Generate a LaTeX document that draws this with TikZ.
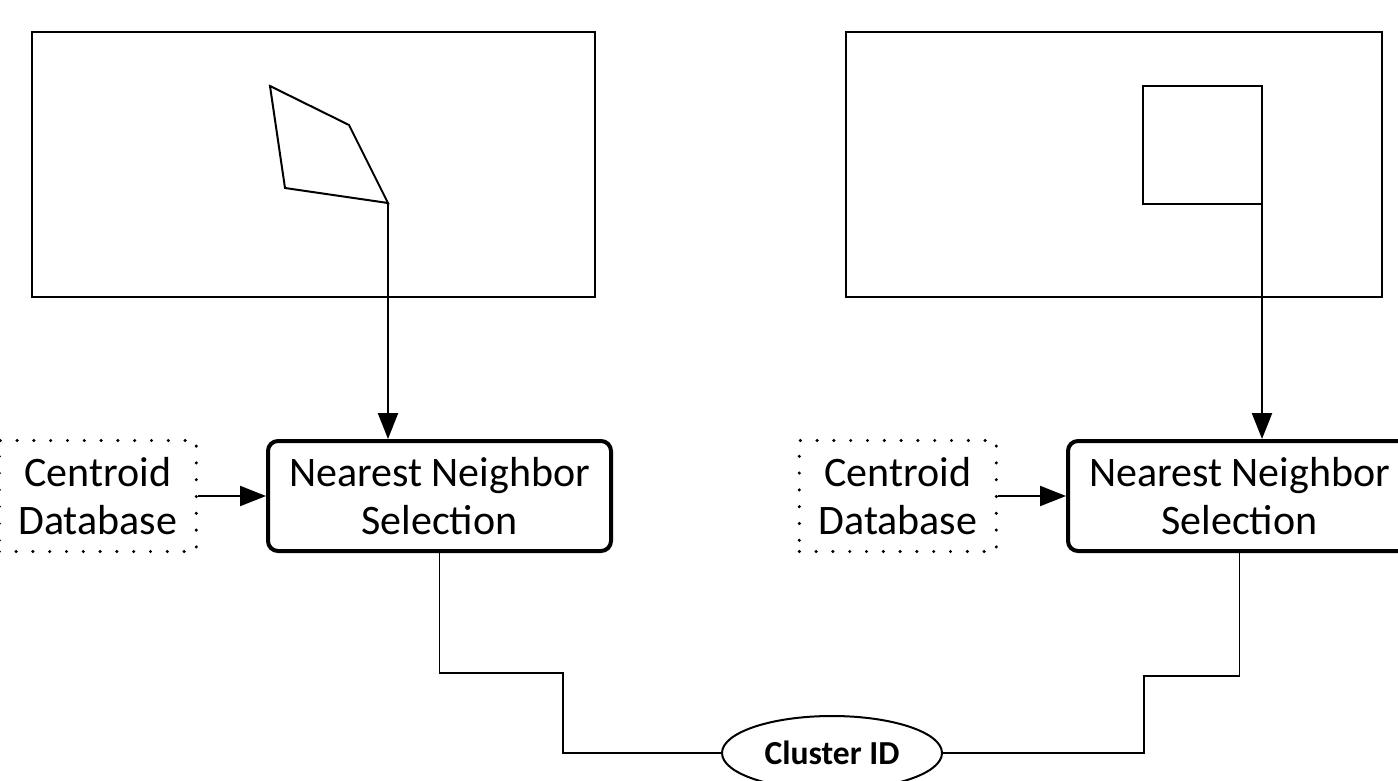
\documentclass[tikz,border=0pt]{standalone}
\usepackage{fontspec}
\setmainfont{Carlito}
\usetikzlibrary{arrows.meta, positioning, shapes.geometric}
\tikzset{
  frame/.style  = {draw, line width=1pt},
  nnbox/.style  = {draw, line width=2pt, rounded corners=5pt, align=center,
                   minimum width=171.5pt, minimum height=55pt, inner sep=2pt,
                   font=\fontsize{21}{24}\selectfont},
  dbbox/.style  = {draw, line width=1.7pt, line cap=round, dash pattern=on 0pt off 8.4pt,
                   align=center, minimum width=98.5pt, minimum height=55.5pt, inner sep=2pt,
                   font=\fontsize{21}{24}\selectfont},
  fl/.style     = {-{Triangle[length=13pt, width=10pt]}, line width=1.2pt},
  wire/.style   = {line width=0.6pt},
  cid/.style    = {ellipse, draw, line width=1pt, inner sep=0pt,
                   minimum width=110pt, minimum height=37pt,
                   font=\bfseries\fontsize{16.8}{18}\selectfont},
}

\begin{document}
\begin{tikzpicture}[x=0.5pt, y=-0.5pt, node distance=6mm and 34pt]
\useasboundingbox (0,0) rectangle (1398,781);
\clip (0,0) rectangle (1398,781);

% the two image frames with their regions
\draw[frame] (32,32) rectangle (595,297);
\draw[frame] (846,32) rectangle (1382,297);
\draw[frame] (270,86) -- (349,125) -- (388,203) -- (285,188) -- cycle;
\draw[frame] (1143,86) rectangle (1262,204);
\coordinate (tipL) at (388,203);
\coordinate (tipR) at (1262,204);

\node[nnbox]             (nnL) at (439.5,496) {Nearest Neighbor\\Selection};
\node[dbbox, left=of nnL] (dbL) {Centroid\\Database};
\node[nnbox]             (nnR) at (1239.5,496) {Nearest Neighbor\\Selection};
\node[dbbox, left=of nnR] (dbR) {Centroid\\Database};

\node[cid] (cid) at (832,753) {Cluster ID};

\draw[fl] (tipL) -- (tipL |- nnL.north);
\draw[fl] (tipR) -- (tipR |- nnR.north);
\draw[fl] (dbL) -- (nnL);
\draw[fl] (dbR) -- (nnR);

\draw[wire] (nnL.south) |- (563,673) |- (cid.west);
\draw[wire] (nnR.south) |- (1144,676) |- (cid.east);
\end{tikzpicture}
\end{document}
